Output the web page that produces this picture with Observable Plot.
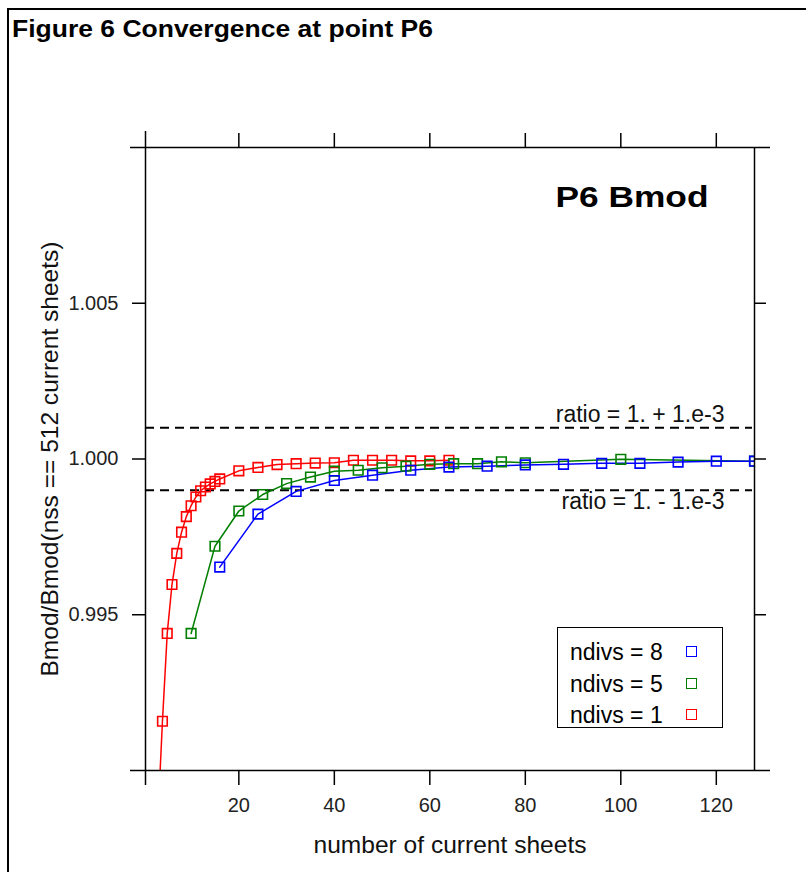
<!DOCTYPE html>
<html><head><meta charset="utf-8">
<script src="https://cdn.jsdelivr.net/npm/d3@7"></script>
<script src="https://cdn.jsdelivr.net/npm/@observablehq/plot@0.6"></script>
<style>
html,body{margin:0;padding:0;background:#fff;overflow:hidden;}
#page{position:relative;width:806px;height:872px;overflow:hidden;font-family:"Liberation Sans",Arial,sans-serif;color:#000;background:#fff;}
#border{position:absolute;left:7px;top:8px;width:900px;height:900px;border-left:2px solid #000;border-top:2px solid #000;z-index:5;pointer-events:none;}
#title{position:absolute;left:12px;top:16px;font-weight:bold;font-size:23px;white-space:nowrap;transform-origin:0 0;line-height:26px;}
#chart{position:absolute;left:0;top:50px;}
#legend{position:absolute;left:557px;top:627px;width:166px;height:101px;border:1.5px solid #000;box-sizing:border-box;background:#fff;}
.lrow{position:absolute;left:12px;height:30px;line-height:30px;font-size:23px;white-space:nowrap;}
.lsq{position:absolute;width:11px;height:11px;box-sizing:border-box;border:1.6px solid;}
</style></head><body>
<div id="page"><div id="border"></div><div id="title"></div><div id="chart"></div><div id="legend"></div></div>
<script>
// ---- data ----
const titleText = "Figure 6 Convergence at point P6";
const panelTitle = "P6 Bmod";
const xLabel = "number of current sheets";
const yLabel = "Bmod/Bmod(nss == 512 current sheets)";
const xTicks = [20, 40, 60, 80, 100, 120];
const yTicks = [0.995, 1.000, 1.005];
const ratioLines = [1.001, 0.999];
const ratioLabels = ["ratio = 1. + 1.e-3", "ratio = 1. - 1.e-3"];
const seriesNames = ["ndivs = 1", "ndivs = 5", "ndivs = 8"];
const seriesColors = ["#ff0000", "#007f00", "#0000ff"];
const legendOrder = ["ndivs = 8", "ndivs = 5", "ndivs = 1"];

const redX = [3, 4, 5, 6, 7, 8, 9, 10, 11, 12, 13, 14, 15, 16, 20, 24, 28, 32, 36, 40, 44, 48, 52, 56, 60, 64];
const redY = [0.9883, 0.99158, 0.99440, 0.99597, 0.99697, 0.99765, 0.99815, 0.99850, 0.99878, 0.99898, 0.99910, 0.99920, 0.99928, 0.99936, 0.99962, 0.99973, 0.99982, 0.99985, 0.99987, 0.99988, 0.99996, 0.99996, 0.99996, 0.99994, 0.99994, 0.99996];
const greenX = [10, 15, 20, 25, 30, 35, 40, 45, 50, 55, 60, 65, 70, 75, 80, 100, 128];
const greenY = [0.99440, 0.99720, 0.99833, 0.99886, 0.99921, 0.99942, 0.99961, 0.99964, 0.99972, 0.99977, 0.99983, 0.99985, 0.99985, 0.99991, 0.99988, 0.99999, 0.99993];
const blueX = [16, 24, 32, 40, 48, 56, 64, 72, 80, 88, 96, 104, 112, 120, 128];
const blueY = [0.99653, 0.99823, 0.99896, 0.99931, 0.99948, 0.99964, 0.99974, 0.99977, 0.99981, 0.99983, 0.99986, 0.99986, 0.99990, 0.99993, 0.99993];

const xDomain = [0.45, 128];
const yDomain = [0.99, 1.01];

// ---- build ----
const series = [
  {name: seriesNames[0], xs: redX, ys: redY},
  {name: seriesNames[1], xs: greenX, ys: greenY},
  {name: seriesNames[2], xs: blueX, ys: blueY}
];
const rows = series.flatMap(s => s.xs.map((x, i) => ({x, y: s.ys[i], name: s.name})));
const font = "Liberation Sans, Arial, sans-serif";

const chart = Plot.plot({
  width: 806, height: 822,
  marginLeft: 145, marginRight: 52, marginTop: 97, marginBottom: 102,
  x: {domain: xDomain},
  y: {domain: yDomain},
  color: {domain: seriesNames, range: seriesColors},
  style: {fontFamily: font, fontSize: "20px", color: "#000", background: "transparent", overflow: "visible"},
  marks: [
    Plot.ruleY(ratioLines, {y: d => d, stroke: "#000", strokeWidth: 2, strokeDasharray: "9,6", insetRight: 2}),
    Plot.line(rows, {x: "x", y: "y", z: "name", stroke: "name", strokeWidth: 1.5, clip: true}),
    Plot.dot(rows, {x: "x", y: "y", stroke: "name", symbol: "square", r: 5.4, strokeWidth: 1.6, clip: true}),
    Plot.ruleY(yDomain, {y: d => d, stroke: "#000", strokeWidth: 1.5, insetLeft: -15, insetRight: -16}),
    Plot.ruleX([xDomain[0]], {x: d => d, stroke: "#000", strokeWidth: 1.5, insetTop: -16, insetBottom: -15}),
    Plot.ruleX([xDomain[1]], {x: d => d, stroke: "#000", strokeWidth: 1.5}),
    Plot.axisX({anchor: "bottom", ticks: xTicks, tickSize: 15, tickPadding: 12, tickFormat: d => String(d), label: null, strokeWidth: 1.5, fontSize: 20, fill: "#222"}),
    Plot.axisX({anchor: "top", ticks: xTicks, tickSize: 15, tickFormat: () => "", label: null, strokeWidth: 1.5}),
    Plot.axisY({anchor: "left", ticks: yTicks, tickSize: 13, tickPadding: 14, tickFormat: d3.format(".3f"), label: null, strokeWidth: 1.5, fontSize: 20, fill: "#222"}),
    Plot.axisY({anchor: "right", ticks: yTicks, tickSize: 11, tickFormat: () => "", label: null, strokeWidth: 1.5}),
    Plot.text([panelTitle], {text: d => d, frameAnchor: "top-right", textAnchor: "end", lineAnchor: "top", dx: -46, dy: 38, fontSize: 30, fontWeight: "bold", fill: "#000"}),
    Plot.text([ratioLabels[0]], {text: d => d, y: () => ratioLines[0], frameAnchor: "right", textAnchor: "end", lineAnchor: "bottom", dx: -30, dy: -6, fontSize: 23, fill: "#111"}),
    Plot.text([ratioLabels[1]], {text: d => d, y: () => ratioLines[1], frameAnchor: "right", textAnchor: "end", lineAnchor: "top", dx: -30, dy: 3, fontSize: 23, fill: "#111"}),
    Plot.text([xLabel], {text: d => d, frameAnchor: "bottom", textAnchor: "middle", lineAnchor: "middle", dy: 75, fontSize: 24, fill: "#111"}),
    Plot.text([yLabel], {text: d => d, frameAnchor: "left", textAnchor: "middle", lineAnchor: "middle", rotate: -90, dx: -95, fontSize: 24, fill: "#111"})
  ]
});
document.getElementById("chart").appendChild(chart);

// width adjustments to match reference glyph widths
const targets = {[panelTitle]: 153, [xLabel]: 273, [yLabel]: 435};
chart.querySelectorAll("text").forEach(t => {
  const s = t.textContent;
  if (targets[s]) { t.setAttribute("textLength", targets[s]); t.setAttribute("lengthAdjust", "spacingAndGlyphs"); }
});

// title
const title = document.getElementById("title");
title.textContent = titleText;
const tw = title.getBoundingClientRect().width;
title.style.transform = `scaleX(${421 / tw})`;

// legend
const legend = document.getElementById("legend");
const cScale = chart.scale("color");
legendOrder.forEach((name, i) => {
  const cy = 24 + i * 31.5;
  const row = document.createElement("div");
  row.className = "lrow";
  row.style.top = (cy - 15) + "px";
  row.textContent = name;
  legend.appendChild(row);
  const sq = document.createElement("div");
  sq.className = "lsq";
  sq.style.left = (128) + "px";
  sq.style.top = (cy - 6) + "px";
  sq.style.borderColor = cScale.apply(name);
  legend.appendChild(sq);
});
</script>
</body></html>
